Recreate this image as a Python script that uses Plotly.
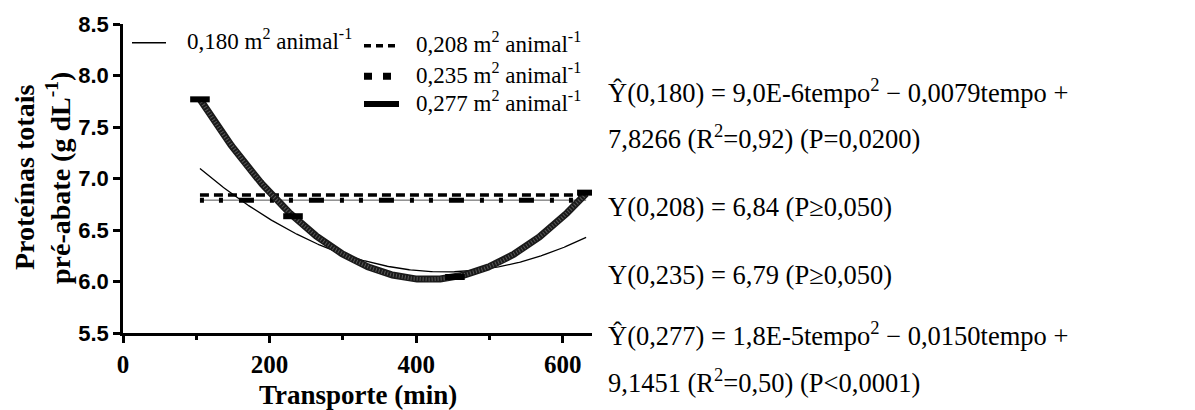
import numpy as np
import plotly.graph_objects as go

# Regression coefficients (a*t^2 + b*t + c) and means by space allowance
coef_180 = [9.0e-6, -0.0079, 7.8266]
coef_277 = [1.8e-5, -0.0150, 9.1451]
mean_208 = 6.84
mean_235 = 6.79

# Transport duration range (min) covered by the fits
t_range = [105, 632]
# Sampling times marked on the 0,277 curve
t_marks_277 = [105, 232, 453, 633]

x_ticks = [0, 200, 400, 600]
y_ticks = [5.5, 6.0, 6.5, 7.0, 7.5, 8.0, 8.5]

names = [
    "0,180 m<sup>2</sup> animal<sup>-1</sup>",
    "0,208 m<sup>2</sup> animal<sup>-1</sup>",
    "0,235 m<sup>2</sup> animal<sup>-1</sup>",
    "0,277 m<sup>2</sup> animal<sup>-1</sup>",
]

equations = [
    "Ŷ(0,180) = 9,0E-6tempo<sup>2</sup> − 0,0079tempo +",
    "7,8266 (R<sup>2</sup>=0,92) (P=0,0200)",
    "Y(0,208) = 6,84 (P≥0,050)",
    "Y(0,235) = 6,79 (P≥0,050)",
    "Ŷ(0,277) = 1,8E-5tempo<sup>2</sup> − 0,0150tempo +",
    "9,1451 (R<sup>2</sup>=0,50) (P&lt;0,0001)",
]

y_title_lines = ["Proteínas totais", "pré-abate (g dL<sup>-1</sup>)"]
x_title = "Transporte (min)"


def quad(coef, t):
    t = np.asarray(t, dtype=float)
    return coef[0] * t ** 2 + coef[1] * t + coef[2]


t = np.linspace(t_range[0], t_range[1], 300)

W, H = 1195, 410
ML, MR, MT, MB = 123, 603, 20, 77
PW, PH = W - ML - MR, H - MT - MB


def px_x(px):
    return (px - ML) / PW


def px_y(py):
    return (H - MB - py) / PH


SERIF = "'Liberation Serif', 'Times New Roman', serif"
SANS = "'Liberation Sans', Arial, sans-serif"

# line styles per series
styles = [
    dict(color="black", width=1.3),
    dict(color="black", width=3.5, dash="9px,5px"),
    dict(color="black", width=5, dash="4px,15px,4px,16px,15px,16px"),
    dict(color="#1a1a1a", width=7),
]
legend_styles = [
    dict(color="black", width=1.5),
    dict(color="black", width=3.5, dash="7px,5px"),
    dict(color="black", width=7, dash="8px,11px"),
    dict(color="black", width=6),
]

fig = go.Figure()

fig.add_trace(go.Scatter(
    x=t, y=quad(coef_180, t), mode="lines", name=names[0],
    line=styles[0], showlegend=False,
))
fig.add_trace(go.Scatter(
    x=t_range, y=[mean_208, mean_208], mode="lines", name=names[1],
    line=styles[1], showlegend=False,
))
# thin guide under the square-dotted mean line
fig.add_trace(go.Scatter(
    x=t_range, y=[mean_235, mean_235], mode="lines", showlegend=False,
    line=dict(color="#555555", width=1), hoverinfo="skip",
))
fig.add_trace(go.Scatter(
    x=t_range, y=[mean_235, mean_235], mode="lines", name=names[2],
    line=styles[2], showlegend=False,
))
fig.add_trace(go.Scatter(
    x=t, y=quad(coef_277, t), mode="lines", name=names[3],
    line=styles[3], showlegend=False,
))
# hatch texture along the thick curve
fig.add_trace(go.Scatter(
    x=t, y=quad(coef_277, t), mode="lines", showlegend=False,
    line=dict(color="#5a5a5a", width=4, dash="1px,2px"), hoverinfo="skip",
))
fig.add_trace(go.Scatter(
    x=t_marks_277, y=quad(coef_277, t_marks_277), mode="markers",
    showlegend=False, hoverinfo="skip",
    marker=dict(symbol="line-ew", size=14, color="black",
                line=dict(color="black", width=6)),
))

shapes = []
annotations = []

# legend: first entry on its own, the other three stacked to the right
legend_rows = [
    (132, 166, 185, 39),
    (364, 399, 414, 42),
    (364, 399, 414, 73),
    (364, 399, 414, 101),
]
for (x0, x1, xt, yy), name, st in zip(legend_rows, names, legend_styles):
    shapes.append(dict(
        type="line", xref="paper", yref="paper",
        x0=px_x(x0), x1=px_x(x1), y0=px_y(yy), y1=px_y(yy), line=st,
    ))
    annotations.append(dict(
        text=name, xref="paper", yref="paper", x=px_x(xt), y=px_y(yy - 3),
        xanchor="left", yanchor="middle", showarrow=False,
        font=dict(family=SERIF, size=23, color="black"),
    ))

eq_y = [88, 134, 205, 274, 334, 382]
for text, yy in zip(equations, eq_y):
    annotations.append(dict(
        text=text, xref="paper", yref="paper", x=px_x(606), y=px_y(yy),
        xanchor="left", yanchor="middle", showarrow=False,
        font=dict(family=SERIF, size=26.5, color="black"),
    ))

# rotated two-line y title
for text, xx in zip(y_title_lines, [24, 58]):
    annotations.append(dict(
        text=text, xref="paper", yref="paper", x=px_x(xx), y=px_y(176),
        xanchor="center", yanchor="middle", textangle=-90, showarrow=False,
        font=dict(family=SERIF, size=28, color="black", weight="bold"),
    ))

annotations.append(dict(
    text=x_title, xref="paper", yref="paper", x=0.5, y=px_y(396),
    xanchor="center", yanchor="middle", showarrow=False,
    font=dict(family=SERIF, size=27, color="black", weight="bold"),
))

fig.update_layout(
    width=W, height=H,
    margin=dict(l=ML, r=MR, t=MT, b=MB),
    paper_bgcolor="white", plot_bgcolor="white",
    showlegend=False,
    shapes=shapes,
    annotations=annotations,
    xaxis=dict(
        range=[0, 640], tickvals=x_ticks, ticktext=[str(v) for v in x_ticks],
        showline=True, linecolor="black", linewidth=2.5,
        ticks="outside", ticklen=7, tickwidth=2.5, tickcolor="black",
        minor=dict(dtick=100, tick0=0, ticks="outside", ticklen=4,
                   tickwidth=2.5, tickcolor="black"),
        showgrid=False, zeroline=False,
        tickfont=dict(family=SERIF, size=25, color="black", weight="bold"),
    ),
    yaxis=dict(
        range=[5.5, 8.5], tickvals=y_ticks,
        ticktext=[f"{v:.1f}" for v in y_ticks],
        showline=True, linecolor="black", linewidth=2.5,
        ticks="outside", ticklen=7, tickwidth=2.5, tickcolor="black",
        showgrid=False, zeroline=False,
        tickfont=dict(family=SANS, size=22, color="black", weight="bold"),
    ),
)

fig.write_html("out.html")
